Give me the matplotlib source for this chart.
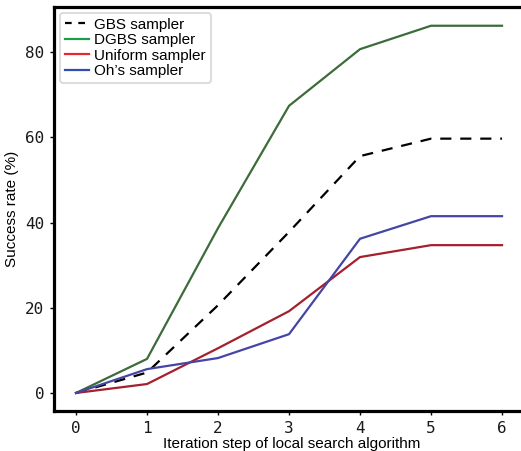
import matplotlib
matplotlib.use("Agg")
import matplotlib.pyplot as plt
from matplotlib.lines import Line2D

steps = [0, 1, 2, 3, 4, 5, 6]
gbs = [0, 4.8, 20.6, 37.8, 55.6, 59.7, 59.7]
dgbs = [0, 8.0, 38.7, 67.4, 80.7, 86.2, 86.2]
uniform = [0, 2.1, 10.5, 19.2, 31.9, 34.7, 34.7]
ohs = [0, 5.6, 8.2, 13.8, 36.2, 41.5, 41.5]

series_labels = ["GBS sampler", "DGBS sampler", "Uniform sampler", "Oh\u2019s sampler"]
yticks = [0, 20, 40, 60, 80]

plt.rcParams["font.family"] = ["Liberation Sans", "DejaVu Sans"]

fig = plt.figure(figsize=(5.21, 4.51), dpi=100)
ax = fig.add_axes([54 / 521, 40 / 451, 476 / 521, 404 / 451])

ax.plot(steps, gbs, color="black", lw=1.6, ls=(0, (5, 4)))
ax.plot(steps, dgbs, color="#3d6b3a", lw=1.6)
ax.plot(steps, uniform, color="#a3202c", lw=1.6)
ax.plot(steps, ohs, color="#4545a5", lw=1.6)

ax.set_xlim(-0.31, 6.394)
ax.set_ylim(-4.23, 90.6)
ax.set_xticks(steps)
ax.set_yticks(yticks)

for side in ["left", "bottom", "top"]:
    ax.spines[side].set_linewidth(2.3)
ax.spines["right"].set_visible(False)

ax.tick_params(length=3, width=1, pad=4)
for lab in ax.get_xticklabels() + ax.get_yticklabels():
    lab.set_fontfamily("DejaVu Sans Mono")
    lab.set_fontsize(11.5)
    lab.set_color("#1a1a1a")

ax.set_xlabel("Iteration step of local search algorithm", fontsize=11,
              labelpad=1)
ax.set_ylabel("Success rate (%)", fontsize=11, labelpad=4)

handles = [
    Line2D([], [], color="black", lw=1.6, ls=(0, (3, 3))),
    Line2D([], [], color="#1e9a4a", lw=1.6),
    Line2D([], [], color="#e8262f", lw=1.6),
    Line2D([], [], color="#2f4fa8", lw=1.6),
]
leg = ax.legend(handles, series_labels, loc="upper left", fontsize=11,
                frameon=True, fancybox=True, handlelength=1.6,
                handletextpad=0.35, labelspacing=0.1, borderpad=0.3,
                borderaxespad=0.4)
leg.get_frame().set_edgecolor("#cccccc")
leg.get_frame().set_linewidth(1.2)

fig.savefig("out.png", dpi=100)
